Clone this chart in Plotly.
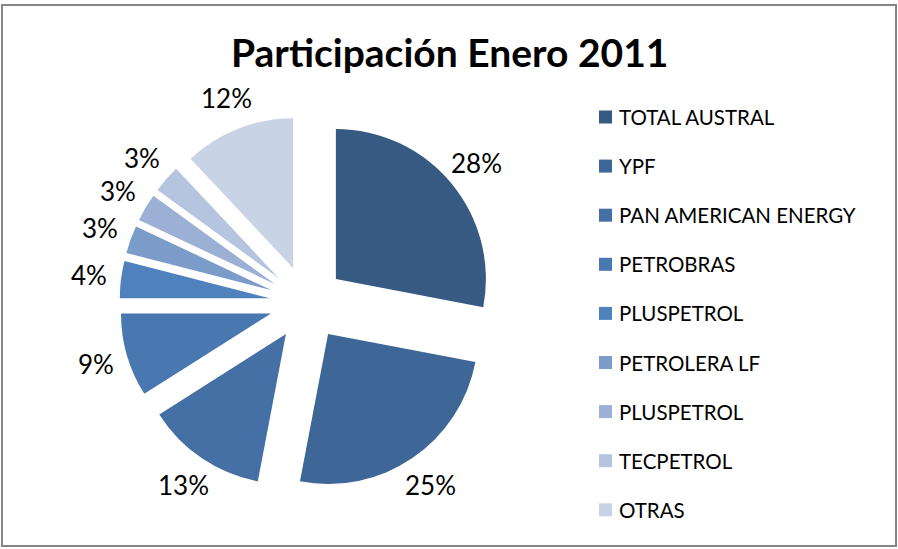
import math
import plotly.graph_objects as go

title_text = "Participación Enero 2011"
labels = ["TOTAL AUSTRAL", "YPF", "PAN AMERICAN ENERGY", "PETROBRAS", "PLUSPETROL",
          "PETROLERA LF", "PLUSPETROL", "TECPETROL", "OTRAS"]
values = [28, 25, 13, 9, 4, 3, 3, 3, 12]
colors = ["#375a82", "#3e6696", "#4470a5", "#4977b0", "#4f81bd",
          "#7b9bc9", "#9bb0d4", "#b5c4df", "#c9d3e6"]

W, H = 898, 549
cx, cy, R = 307, 303, 150
pull = 0.25
ext = R * (1 + pull)
LABEL_R = 220
FONT = "Lato, Open Sans, sans-serif"


def fx(x):
    return x / W


def fy(y):
    return 1 - y / H


fig = go.Figure()
fig.add_trace(go.Pie(
    labels=[f"{l} {i}" for i, l in enumerate(labels)],
    values=values,
    marker=dict(colors=colors, line=dict(width=0)),
    sort=False,
    direction="clockwise",
    rotation=0,
    pull=[pull] * len(values),
    textinfo="none",
    hoverinfo="skip",
    showlegend=False,
    domain=dict(x=[fx(cx - ext), fx(cx + ext)], y=[fy(cy + ext), fy(cy - ext)]),
))

shapes = [dict(type="rect", xref="paper", yref="paper",
               x0=fx(2), x1=fx(W - 2), y0=fy(546), y1=fy(5),
               line=dict(color="#868686", width=2), fillcolor="rgba(0,0,0,0)")]
annotations = [dict(text=f"<b>{title_text}</b>", xref="paper", yref="paper",
                    x=fx(449), y=fy(52), xanchor="center", yanchor="middle",
                    showarrow=False, font=dict(family=FONT, size=39, color="#000000"))]

# percentage labels placed along each slice's bisector
total = sum(values)
cum = 0
for v in values:
    mid = (cum + v / 2) / total * 2 * math.pi
    cum += v
    lx = cx + LABEL_R * math.sin(mid)
    ly = cy - LABEL_R * math.cos(mid)
    annotations.append(dict(text=f"{v}%", xref="paper", yref="paper",
                            x=fx(lx), y=fy(ly), xanchor="center", yanchor="middle",
                            showarrow=False, font=dict(family=FONT, size=26, color="#000000")))

ly0, ldy = 117, 49.1
for i, (lab, col) in enumerate(zip(labels, colors)):
    y = ly0 + i * ldy
    shapes.append(dict(type="rect", xref="paper", yref="paper",
                       x0=fx(599), x1=fx(612), y0=fy(y + 6.5), y1=fy(y - 6.5),
                       line=dict(width=0), fillcolor=col))
    annotations.append(dict(text=lab, xref="paper", yref="paper",
                            x=fx(617), y=fy(y), xanchor="left", yanchor="middle",
                            showarrow=False,
                            font=dict(family=FONT, size=20.5, color="#000000")))

fig.update_layout(
    width=W, height=H,
    margin=dict(l=0, r=0, t=0, b=0),
    paper_bgcolor="#ffffff",
    plot_bgcolor="#ffffff",
    shapes=shapes,
    annotations=annotations,
)

fig.write_html("out.html", post_script="document.body.style.margin='0';",
               config={"displayModeBar": False})
